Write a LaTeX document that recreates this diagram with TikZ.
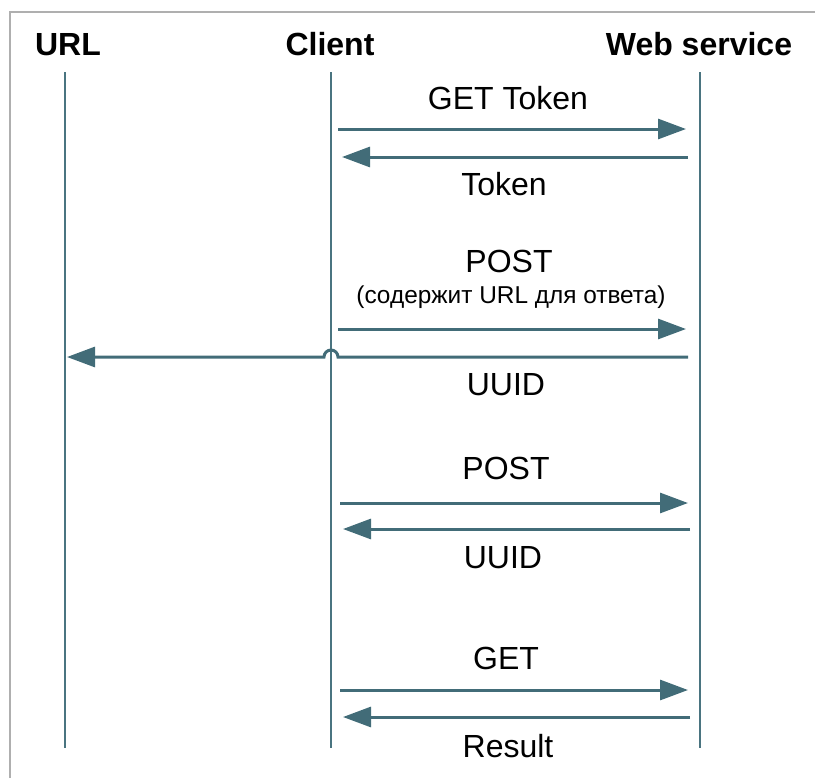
\documentclass[tikz,border=0pt]{standalone}
\usepackage{fontspec}
\setmainfont{Liberation Sans}
\usetikzlibrary{arrows.meta}

\definecolor{lifecol}{RGB}{74,116,128}
\definecolor{msgcol}{RGB}{66,108,120}
\definecolor{framecol}{RGB}{175,175,175}

\tikzset{
  actor/.style={font=\fontsize{16}{19}\selectfont\bfseries, anchor=base, inner sep=0pt},
  lifeline/.style={draw=lifecol, line width=1.2pt},
  msg/.style={draw=msgcol, line width=1.5pt, -{Triangle[length=14pt,width=10pt]}},
  msglabel/.style={font=\fontsize{16}{19}\selectfont, anchor=base, inner sep=0pt},
  note/.style={font=\fontsize{12.2}{14}\selectfont, anchor=base, inner sep=0pt}
}

\begin{document}
\begin{tikzpicture}[x=0.5pt,y=-0.5pt]
   \useasboundingbox (0,0) rectangle (815,778);
   \draw[framecol, line width=1pt] (10,778) -- (10,12) -- (815,12);

   % actors
   \node[actor] (url) at (68,55) {URL};
   \node[actor] (client) at (330,55) {Client};
   \node[actor] (ws) at (699,55) {Web service};

   \coordinate (url top) at (65,72);
   \coordinate (url bot) at (65,748);
   \coordinate (client top) at (331,72);
   \coordinate (client bot) at (331,748);
   \coordinate (ws top) at (700,72);
   \coordinate (ws bot) at (700,748);
   \draw[lifeline] (url top) -- (url bot);
   \draw[lifeline] (client top) -- (client bot);
   \draw[lifeline] (ws top) -- (ws bot);

   % GET Token / Token
   \coordinate (c1) at (338,129);
   \coordinate (w1) at (686,129);
   \coordinate (w2) at (688,157);
   \coordinate (c2) at (342,157);
   \draw[msg] (c1) -- (w1);
   \draw[msg] (w2) -- (c2);
   \node[msglabel] (l1) at (508,109) {GET Token};
   \node[msglabel] (l2) at (504,195) {Token};

   % POST with URL / UUID
   \coordinate (c3) at (338,329);
   \coordinate (w3) at (686,329);
   \coordinate (w4) at (688,357);
   \coordinate (h4) at (338,357);
   \coordinate (u4) at (67,357);
   \draw[msg] (c3) -- (w3);
   \draw[msg] (w4) -- (h4) arc[start angle=0, end angle=180, radius=3.5pt] -- (u4);
   \node[msglabel] (l3) at (509,272) {POST};
   \node[note] (l3n) at (511,303) {(содержит URL для ответа)};
   \node[msglabel] (l4) at (506,395) {UUID};

   % POST / UUID
   \coordinate (c5) at (340,503);
   \coordinate (w5) at (688,503);
   \coordinate (w6) at (690,529);
   \coordinate (c6) at (343,529);
   \draw[msg] (c5) -- (w5);
   \draw[msg] (w6) -- (c6);
   \node[msglabel] (l5) at (506,479) {POST};
   \node[msglabel] (l6) at (503,568) {UUID};

   % GET / Result
   \coordinate (c7) at (340,690);
   \coordinate (w7) at (688,690);
   \coordinate (w8) at (690,717);
   \coordinate (c8) at (343,717);
   \draw[msg] (c7) -- (w7);
   \draw[msg] (w8) -- (c8);
   \node[msglabel] (l7) at (506,669) {GET};
   \node[msglabel] (l8) at (508,757) {Result};
\end{tikzpicture}
\end{document}
